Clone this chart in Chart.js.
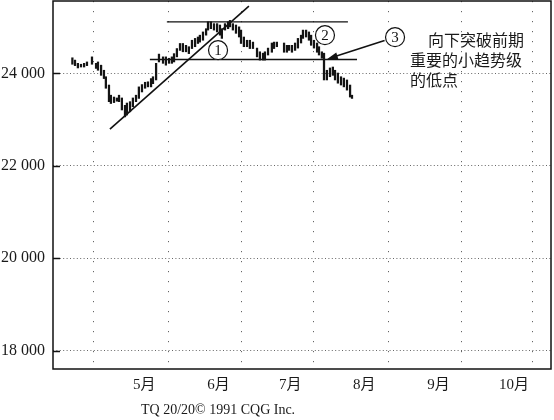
<!DOCTYPE html>
<html>
<head>
<meta charset="utf-8">
<script src="https://cdn.jsdelivr.net/npm/chart.js@4/dist/chart.umd.min.js"></script>
<style>
  html, body { margin: 0; padding: 0; background: #fff; }
  #wrap { width: 554px; height: 420px; position: relative; }
</style>
</head>
<body>
<div id="wrap"><canvas id="myChart"></canvas></div>
<script>
// day of year (Jan 1 = 0) of each daily bar
const barDays = [95.5, 96.6, 97.8, 99.1, 100.4, 101.6, 103.7, 105.4, 106.2, 107.5,
  108.7, 109.5, 110.8, 111.6, 112.9, 114.1, 115.0, 116.2, 117.5, 118.3,
  119.6, 120.8, 122.1, 123.3, 124.6, 125.9, 127.1, 128.4, 129.2, 130.5, 131.7,
  133.4, 134.6, 135.9, 137.1, 138.0, 139.2, 140.5, 141.7, 143.0, 144.2,
  145.5, 146.8, 148.0, 148.8, 150.1, 151.4, 152.2, 153.4, 154.7, 156.0,
  157.2, 158.0, 159.3, 160.6, 161.4, 162.6, 163.9, 165.2, 166.0, 167.2, 168.5, 169.7, 171.0,
  172.7, 173.9, 175.2, 176.0, 177.3, 178.9, 179.8, 181.0, 184.0, 185.2,
  186.1, 187.3, 188.6, 189.8, 191.1, 191.9, 193.2, 194.4, 195.3, 196.5,
  197.8, 198.6, 199.8, 200.7, 201.9, 203.2, 204.4, 205.3, 206.5, 207.8, 209.0, 210.3, 211.6, 212.4];
const barHigh = [24340, 24290, 24220, 24200, 24220, 24250, 24360, 24220, 24250, 24180,
  24070, 23930, 23750, 23530, 23490, 23470, 23530, 23470, 23310, 23360,
  23390, 23470, 23530, 23710, 23760, 23810, 23820, 23890, 23930, 24220, 24420,
  24360, 24360, 24330, 24360, 24430, 24540, 24650, 24650, 24610, 24580,
  24720, 24760, 24790, 24830, 24900, 24970, 25120, 25120, 25080, 25080,
  25050, 24970, 25080, 25120, 25150, 25080, 25050, 25010, 24940, 24790, 24720, 24720, 24680,
  24550, 24470, 24440, 24470, 24550, 24660, 24680, 24680, 24660, 24610,
  24610, 24610, 24660, 24760, 24830, 24940, 24940, 24900, 24830, 24720,
  24660, 24580, 24470, 24440, 24070, 24120, 24140, 24070, 24010, 23930, 23900, 23860, 23750, 23530];
const barLow = [24200, 24170, 24120, 24140, 24140, 24170, 24200, 24110, 24070, 23960,
  23890, 23680, 23390, 23350, 23370, 23400, 23390, 23210, 23060, 23100,
  23170, 23280, 23390, 23460, 23600, 23680, 23710, 23710, 23780, 23860, 24250,
  24220, 24180, 24220, 24220, 24250, 24360, 24500, 24470, 24470, 24430,
  24540, 24580, 24650, 24680, 24720, 24830, 24940, 24970, 24940, 24900,
  24830, 24760, 24940, 24970, 25010, 24940, 24870, 24790, 24650, 24580, 24580, 24540, 24540,
  24360, 24290, 24290, 24290, 24400, 24460, 24540, 24580, 24460, 24460,
  24500, 24460, 24500, 24550, 24660, 24760, 24790, 24720, 24610, 24550,
  24460, 24400, 24330, 23860, 23860, 23930, 23960, 23860, 23790, 23750, 23710, 23640, 23490, 23460];

const monthDays = [120, 151, 181, 212, 243, 273];
const monthLabels = ["5月", "6月", "7月", "8月", "9月", "10月"];
const yTicks = [18000, 20000, 22000, 24000];
const yTickLabels = ["18 000", "20 000", "22 000", "24 000"];

// drawn lines: trend line, top of range, bottom of range
const trendDays = [111.2, 169.3];
const trendPrices = [22794, 25457];
const topDays = [135.0, 210.7];
const topPrices = [25117, 25117];
const bottomDays = [127.9, 214.5];
const bottomPrices = [24303, 24303];

const noteLines = ["向下突破前期", "重要的小趋势级", "的低点"];

const serif = "'Liberation Serif', 'Noto Sans CJK SC', serif";

const pairs = (xs, ys) => xs.map((d, i) => ({ x: d, y: ys[i] }));

const notes = {
  id: 'notes',
  afterDraw(chart) {
    const { ctx, chartArea: a, scales: { x, y } } = chart;
    ctx.save();
    ctx.strokeStyle = '#111';
    ctx.lineWidth = 1.5;
    ctx.strokeRect(a.left, a.top, a.right - a.left, a.bottom - a.top);
    // small inner ticks on the price axis
    yTicks.forEach(v => {
      const py = Math.round(y.getPixelForValue(v)) + 0.5;
      ctx.beginPath();
      ctx.moveTo(a.left, py);
      ctx.lineTo(a.left + 7, py);
      ctx.stroke();
    });

    // numbered circles
    const circles = [[156.4, 24504, '1'], [201.1, 24829, '2'], [230.4, 24786, '3']];
    ctx.lineWidth = 1.2;
    ctx.font = '15px ' + serif;
    ctx.textAlign = 'center';
    ctx.textBaseline = 'middle';
    circles.forEach(([d, p, t]) => {
      const cx = x.getPixelForValue(d), cy = y.getPixelForValue(p);
      ctx.fillStyle = '#fff';
      ctx.beginPath();
      ctx.arc(cx, cy, 9.5, 0, Math.PI * 2);
      ctx.fill();
      ctx.stroke();
      ctx.fillStyle = '#111';
      ctx.fillText(t, cx, cy + 1);
    });

    // arrow from circle 3 to the break point
    const sx = x.getPixelForValue(230.4), sy = y.getPixelForValue(24786);
    const tx = x.getPixelForValue(201.9), ty = y.getPixelForValue(24310);
    const ang = Math.atan2(ty - sy, tx - sx);
    const bx = sx + Math.cos(ang) * 11, by = sy + Math.sin(ang) * 11;
    ctx.lineWidth = 1.5;
    ctx.beginPath();
    ctx.moveTo(bx, by);
    ctx.lineTo(tx - Math.cos(ang) * 6, ty - Math.sin(ang) * 6);
    ctx.stroke();
    ctx.beginPath();
    ctx.moveTo(tx, ty);
    ctx.lineTo(tx - Math.cos(ang) * 11 + Math.sin(ang) * 3.5, ty - Math.sin(ang) * 11 - Math.cos(ang) * 3.5);
    ctx.lineTo(tx - Math.cos(ang) * 11 - Math.sin(ang) * 3.5, ty - Math.sin(ang) * 11 + Math.cos(ang) * 3.5);
    ctx.closePath();
    ctx.fill();

    // note text
    ctx.font = "16px 'Noto Sans CJK SC', sans-serif";
    ctx.textAlign = 'left';
    ctx.fillStyle = '#1a1a1a';
    ctx.fillText(noteLines[0], x.getPixelForValue(244.2), y.getPixelForValue(24721));
    ctx.fillText(noteLines[1], x.getPixelForValue(236.6), y.getPixelForValue(24288));
    ctx.fillText(noteLines[2], x.getPixelForValue(236.6), y.getPixelForValue(23855));

    // source line
    ctx.font = '14px ' + serif;
    ctx.textBaseline = 'alphabetic';
    ctx.fillText('TQ 20/20© 1991 CQG Inc.', 141, 414);
    ctx.restore();
  }
};

const ctx = document.getElementById("myChart");

new Chart(ctx, {
  type: "bar",
  data: {
    datasets: [
      {
        label: "bars",
        data: barDays.map((d, i) => ({ x: d, y: [barLow[i], barHigh[i]] })),
        backgroundColor: '#141414',
        borderWidth: 0,
        barThickness: 1.6,
        grouped: false,
      },
      {
        type: 'line',
        data: pairs(trendDays, trendPrices),
        borderColor: '#111', borderWidth: 1.6, pointRadius: 0,
      },
      {
        type: 'line',
        data: pairs(topDays, topPrices),
        borderColor: '#111', borderWidth: 1.4, pointRadius: 0,
      },
      {
        type: 'line',
        data: pairs(bottomDays, bottomPrices),
        borderColor: '#111', borderWidth: 1.4, pointRadius: 0,
      },
    ],
  },
  options: {
    responsive: true,
    maintainAspectRatio: false,
    animation: false,
    layout: { padding: { top: 1, right: 3, left: 0, bottom: 0 } },
    plugins: { legend: { display: false }, tooltip: { enabled: false } },
    scales: {
      x: {
        type: 'linear',
        offset: false,
        min: 87.4,
        max: 295.6,
        afterBuildTicks: s => { s.ticks = monthDays.map(v => ({ value: v })); },
        afterFit: s => { s.height = 51; s.paddingLeft = 0; s.paddingRight = 0; },
        grid: { color: '#666', lineWidth: 1, drawTicks: false },
        border: { display: false, dash: [1.2, 8.8] },
        ticks: {
          align: 'start',
          labelOffset: 2,
          padding: 7,
          color: '#1a1a1a',
          font: { family: serif, size: 15 },
          callback: (v, i) => monthLabels[i],
        },
      },
      y: {
        min: 17600,
        max: 25570,
        afterBuildTicks: s => { s.ticks = yTicks.map(v => ({ value: v })); },
        afterFit: s => { s.width = 53; s.paddingTop = 0; s.paddingBottom = 0; },
        grid: { color: '#666', lineWidth: 1, drawTicks: false },
        border: { display: false, dash: [1, 2.4] },
        ticks: {
          padding: 8,
          color: '#1a1a1a',
          font: { family: serif, size: 16 },
          callback: (v, i) => yTickLabels[i],
        },
      },
    },
  },
  plugins: [notes],
});
</script>
</body>
</html>
